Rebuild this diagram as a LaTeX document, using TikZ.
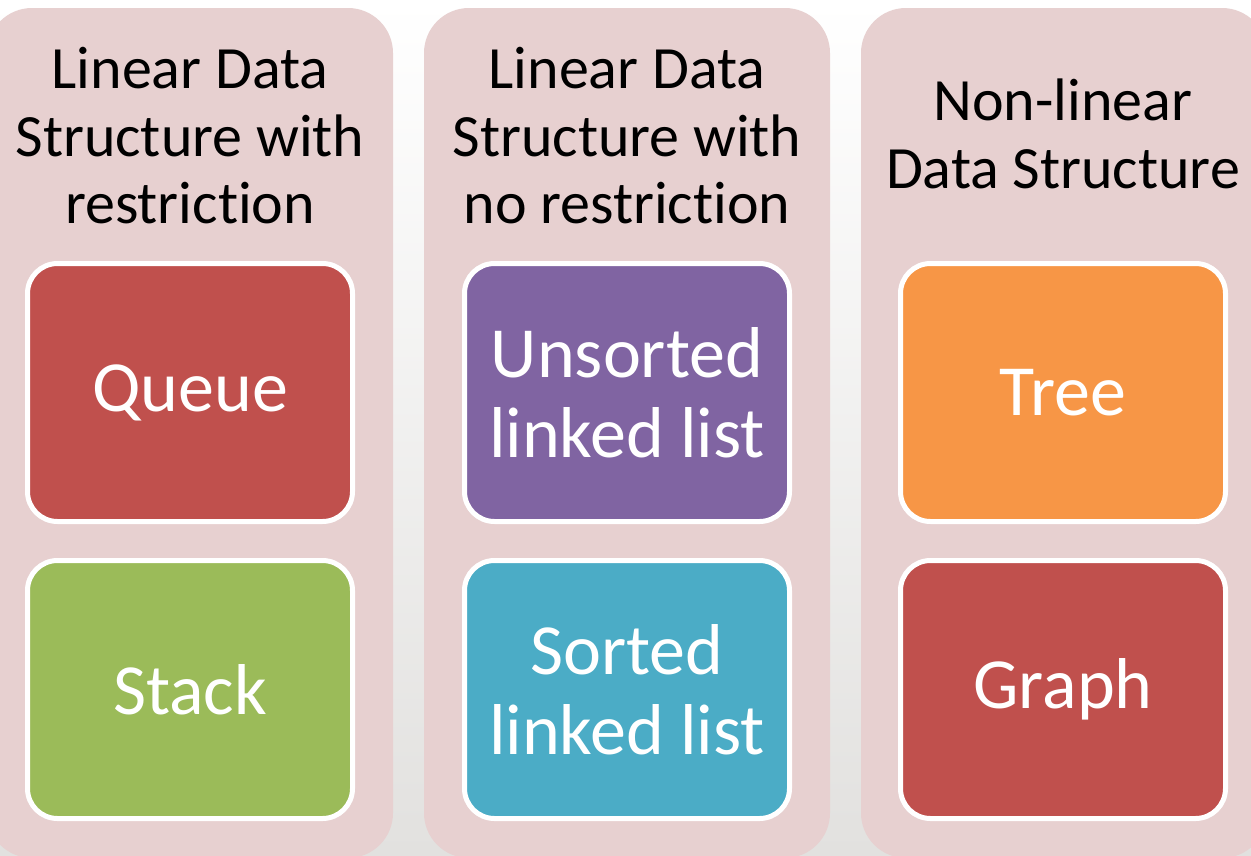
\documentclass[tikz,border=0pt]{standalone}
\usepackage{fontspec}
\setmainfont{Carlito}[Ligatures={NoCommon,NoContextual}]
\newcommand{\tisep}{t\kern0pt i}% keeps "t" and "i" as two separate glyphs
\definecolor{pagebottom}{RGB}{226,225,223}
\definecolor{colbg}{RGB}{231,208,208}
\definecolor{cred}{RGB}{192,80,77}
\definecolor{cgreen}{RGB}{155,187,89}
\definecolor{cpurple}{RGB}{128,100,162}
\definecolor{cblue}{RGB}{75,172,198}
\definecolor{corange}{RGB}{247,150,70}
\tikzset{
  column/.style={fill=colbg, rounded corners=45pt},
  header/.style={align=center, text=black, inner sep=0pt,
    font=\fontsize{60}{67.5}\selectfont},
  itembox/.style={draw=white, line width=5pt, rounded corners=30pt,
    minimum width=325pt, minimum height=258pt, inner sep=0pt,
    align=center, text=white, font=\fontsize{72}{80}\selectfont},
}
\begin{document}
\begin{tikzpicture}[x=1pt, y=-1pt]
  \useasboundingbox (0,0) rectangle (1251,855);
  % page background
  \shade[top color=white, bottom color=pagebottom] (0,0) rectangle (1251,855);
  % the three category columns
  \fill[column] (-13,8) rectangle (393,858);
  \fill[column] (424,8) rectangle (830,858);
  \fill[column] (861,8) rectangle (1267,858);
  % column headings
  \node[header] (h1) at (190,136) {Linear Data\\Structure with\\restric\tisep on};
  \node[header] (h2) at (627,136) {Linear Data\\Structure with\\no restric\tisep on};
  \node[header] (h3) at (1063,134) {Non-linear\\Data Structure};
  % data structure boxes
  \node[itembox, fill=cred]    (queue)    at (190,392.5) {Queue};
  \node[itembox, fill=cgreen]  (stack)    at (190,689.5) {Stack};
  \node[itembox, fill=cpurple] (unsorted) at (627,392.5) {Unsorted\\linked list};
  \node[itembox, fill=cblue]   (sorted)   at (627,689.5) {Sorted\\linked list};
  \node[itembox, fill=corange] (tree)     at (1063,392.5) {Tree};
  \node[itembox, fill=cred]    (graph)    at (1063,689.5) {Graph};
\end{tikzpicture}
\end{document}
